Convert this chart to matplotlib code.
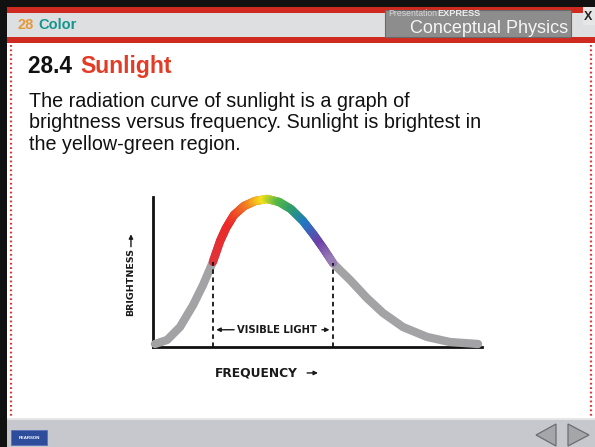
import numpy as np
import matplotlib
matplotlib.use("Agg")
import matplotlib.pyplot as plt
from matplotlib.patches import Rectangle, Polygon
from matplotlib.collections import LineCollection
from matplotlib.colors import LinearSegmentedColormap

# ---- data (arbitrary units, 0..10) ----
frequency = [0.06, 0.43, 0.82, 1.22, 1.52, 1.82, 2.04, 2.22, 2.46, 2.77, 3.10, 3.47, 3.83,
             4.19, 4.56, 4.89, 5.17, 5.47, 5.68, 5.99, 6.50, 6.99, 7.60, 8.33, 9.03, 9.88]
brightness = [0.20, 0.47, 1.33, 2.80, 4.13, 5.67, 7.07, 7.93, 8.80, 9.40, 9.73, 9.87, 9.67,
              9.20, 8.40, 7.47, 6.60, 5.60, 5.13, 4.47, 3.27, 2.27, 1.33, 0.67, 0.33, 0.20]
visible_start = 5   # index of first visible-light point
visible_end = 17    # index of last visible-light point

title_num = "28.4 "
title_word = "Sunlight"
body_lines = ["The radiation curve of sunlight is a graph of",
              "brightness versus frequency. Sunlight is brightest in",
              "the yellow-green region."]
x_label = "FREQUENCY"
y_label = "BRIGHTNESS"
band_label = "VISIBLE LIGHT"

W, H = 595, 447
fig = plt.figure(figsize=(W / 100, H / 100), dpi=100)
fig.patch.set_facecolor("white")

# ---------- slide decoration in pixel coordinates ----------
bg = fig.add_axes([0, 0, 1, 1])
bg.set_xlim(0, W)
bg.set_ylim(H, 0)
bg.axis("off")

def rect(x0, y0, x1, y1, color, **kw):
    bg.add_patch(Rectangle((x0, y0), x1 - x0, y1 - y0, facecolor=color, edgecolor=kw.pop("ec", "none"),
                           linewidth=kw.pop("lw", 0), **kw))

rect(0, 0, W, 7, "#111111")
rect(7, 7, W, 13, "#cf2a1f")
rect(7, 13, W, 37, "#dedfe1")
rect(7, 37, W, 43, "#cf2a1f")
rect(385, 10, 571, 37, "#8d8d8d", ec="#6a6a6a", lw=0.8)
rect(583, 7, W, 25, "#e6e6e6")
rect(0, 0, 7, H, "#111111")
# footer
rect(7, 419, W, H, "#c7c8cd")
rect(7, 418, W, 420, "#e6e6e8")

bg.text(18, 29, "28", color="#e39a3a", fontsize=10.5, fontweight="bold",
        family="Liberation Sans", va="baseline")
bg.text(38, 29, "Color", color="#14968f", fontsize=10.5, fontweight="bold",
        family="Liberation Sans", va="baseline")
bg.text(388, 16.5, "Presentation", color="#d8d8d8", fontsize=6.2, family="Liberation Sans",
        va="baseline")
bg.text(437, 16.5, "EXPRESS", color="#ececec", fontsize=6.6, fontweight="bold",
        family="Liberation Sans", va="baseline")
bg.text(568, 33, "Conceptual Physics", color="#f6f6f6", fontsize=13, family="Liberation Sans",
        ha="right", va="baseline")
bg.text(584, 20, "X", color="#222222", fontsize=9, fontweight="bold", family="Liberation Sans",
        va="baseline")

# dotted red side borders
bg.plot([11, 11], [45, 418], color="#d23a3a", lw=1.6, ls=(0, (0.8, 1.2)))
bg.plot([591, 591], [45, 418], color="#d23a3a", lw=1.6, ls=(0, (0.8, 1.2)))

# title and body text
bg.text(28, 73, title_num, color="#111111", fontsize=16.3, fontweight="bold",
        family="Liberation Sans", va="baseline")
bg.text(80, 73, title_word, color="#e23b26", fontsize=16.5, fontweight="bold",
        family="Liberation Sans", va="baseline")
for i, line in enumerate(body_lines):
    bg.text(29, 106.7 + i * 21.7, line, color="#111111", fontsize=14.2,
            family="Liberation Sans", va="baseline")

# Pearson logo
rect(11, 430, 47, 445, "#2d4c9c", ec="#5a72b8", lw=0.6)
bg.text(29, 438, "PEARSON", color="white", fontsize=3.2, fontweight="bold",
        family="Liberation Sans", ha="center", va="center")

# navigation arrows
bg.add_patch(Polygon([[536, 435], [556, 424], [556, 446]], closed=True,
                     facecolor="#a5a6aa", edgecolor="#6c6d72", lw=0.9))
bg.add_patch(Polygon([[568, 424], [589, 435], [568, 446]], closed=True,
                     facecolor="#a5a6aa", edgecolor="#6c6d72", lw=0.9))

# ---------- the chart ----------
x0p, x1p, y0p, y1p = 153, 482, 347, 197
ax = fig.add_axes([x0p / W, (H - y0p) / H, (x1p - x0p) / W, (y0p - y1p) / H])
ax.set_xlim(0, 10)
ax.set_ylim(0, 10)
ax.patch.set_alpha(0)
for s in ["top", "right"]:
    ax.spines[s].set_visible(False)
for s in ["left", "bottom"]:
    ax.spines[s].set_linewidth(2.0)
    ax.spines[s].set_color("#111111")
ax.set_xticks([])
ax.set_yticks([])

fx = np.array(frequency)
by = np.array(brightness)

# gray curve
ax.plot(fx, by, color="#a3a3a5", lw=6, solid_capstyle="round", solid_joinstyle="round",
        zorder=3, clip_on=False)

# rainbow part: colour each (subdivided) piece of the visible segment
rainbow = LinearSegmentedColormap.from_list("rb", [
    (0.00, "#e0333a"), (0.14, "#ec2a2a"), (0.30, "#f27d22"), (0.43, "#f6e01c"),
    (0.56, "#55b848"), (0.68, "#2a9a72"), (0.78, "#1f78c4"), (0.90, "#6e3fa8"),
    (1.00, "#9a7fb5")])
segs, cols = [], []
vx = fx[visible_start:visible_end + 1]
vy = by[visible_start:visible_end + 1]
xa, xb = vx[0], vx[-1]
for i in range(len(vx) - 1):
    t = np.linspace(0, 1, 8)
    px = vx[i] + (vx[i + 1] - vx[i]) * t
    py = vy[i] + (vy[i + 1] - vy[i]) * t
    for j in range(len(t) - 1):
        segs.append([(px[j], py[j]), (px[j + 1], py[j + 1])])
        cols.append(rainbow(((px[j] + px[j + 1]) / 2 - xa) / (xb - xa)))
lc = LineCollection(segs, colors=cols, linewidths=6, capstyle="round", zorder=4, clip_on=False)
ax.add_collection(lc)

# dashed verticals bounding visible light
for k in (visible_start, visible_end):
    ax.plot([fx[k], fx[k]], [0, by[k]], color="#111111", lw=1.3, ls=(0, (2.5, 2)), zorder=5)

# VISIBLE LIGHT annotation
ymid = 1.15
ax.text(3.77, ymid, band_label, ha="center", va="center",
        fontsize=7.2, fontweight="bold", color="#1a1a1a", family="DejaVu Sans", zorder=6)
ax.annotate("", xy=(fx[visible_start] + 0.02, ymid), xytext=(2.55, ymid),
            arrowprops=dict(arrowstyle="-|>", color="#1a1a1a", lw=1.0, mutation_scale=6))
ax.annotate("", xy=(fx[visible_end] - 0.02, ymid), xytext=(5.05, ymid),
            arrowprops=dict(arrowstyle="-|>", color="#1a1a1a", lw=1.0, mutation_scale=6))

# axis labels with arrows
ax.text(1.88, -1.73, x_label, ha="left", va="center", fontsize=8.8, fontweight="bold",
        color="#1a1a1a", family="DejaVu Sans", clip_on=False)
ax.annotate("", xy=(5.1, -1.73), xytext=(4.6, -1.73), annotation_clip=False,
            arrowprops=dict(arrowstyle="-|>", color="#1a1a1a", lw=1.0, mutation_scale=6))
ax.text(-0.67, 4.3, y_label, ha="center", va="center", rotation=90, fontsize=6.8,
        fontweight="bold", color="#1a1a1a", family="DejaVu Sans", clip_on=False)
ax.annotate("", xy=(-0.67, 7.7), xytext=(-0.67, 6.5), annotation_clip=False,
            arrowprops=dict(arrowstyle="-|>", color="#1a1a1a", lw=1.0, mutation_scale=6))

fig.savefig("out.png", dpi=100)
